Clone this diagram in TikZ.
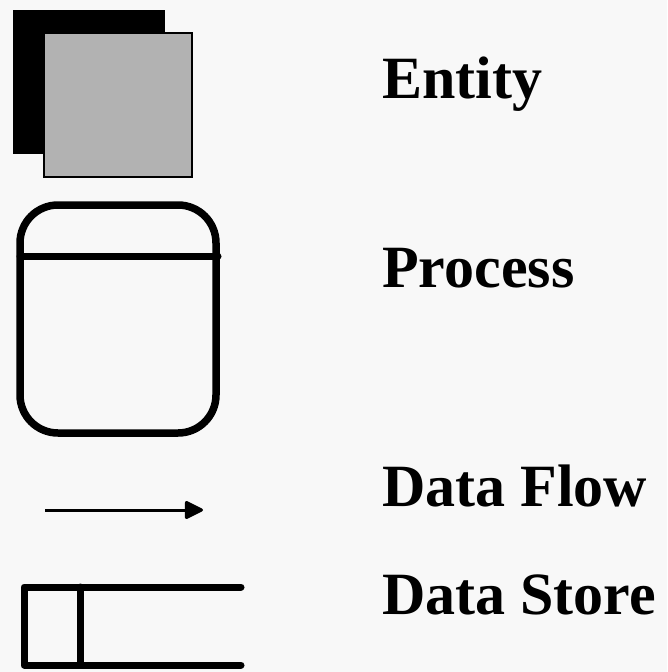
\documentclass[tikz,border=0pt]{standalone}
\usepackage{fontspec}
\setmainfont{Liberation Serif}
\usetikzlibrary{arrows.meta}
\definecolor{paper}{RGB}{248,248,248}
\definecolor{shade}{RGB}{178,178,178}
\tikzset{
  legendtext/.style={anchor=base west, inner sep=0pt,
    font=\fontsize{60}{62}\selectfont\bfseries},
  outline/.style={line width=7pt, line cap=round, line join=round},
  flowline/.style={line width=3pt, -{Triangle[length=20pt,width=19pt,round]}},
}
\begin{document}
\begin{tikzpicture}[x=1pt,y=-1pt]
  % page
  \fill[paper] (0,0) rectangle (667,672);
  \useasboundingbox (0,0) rectangle (667,672);

  % entity symbol: black square behind a shaded square
  \fill[black] (13,10) rectangle (165,154);
  \filldraw[fill=shade, draw=black, line width=2.5pt] (44,33) rectangle (192,177);

  % process symbol: rounded box with a header bar
  \draw[outline, line width=7.5pt, rounded corners=38pt] (20,205) rectangle (216,433);
  \draw[outline] (20,256) -- (218,256);

  % data flow symbol
  \coordinate (flowstart) at (45,510);
  \coordinate (flowend) at (203,510);
  \draw[flowline] (flowstart) -- (flowend);

  % data store symbol: open-ended box with a tag compartment
  \draw[outline] (241,587) -- (24,587) -- (24,665) -- (241,665);
  \draw[outline] (80,587) -- (80,665);

  % labels
  \node[legendtext] (entity)  at (382,98)  {Entity};
  \node[legendtext] (process) at (382,287) {Process};
  \node[legendtext] (flow)    at (382,506) {Data Flow};
  \node[legendtext] (store)   at (382,614) {Data Store};
\end{tikzpicture}
\end{document}
